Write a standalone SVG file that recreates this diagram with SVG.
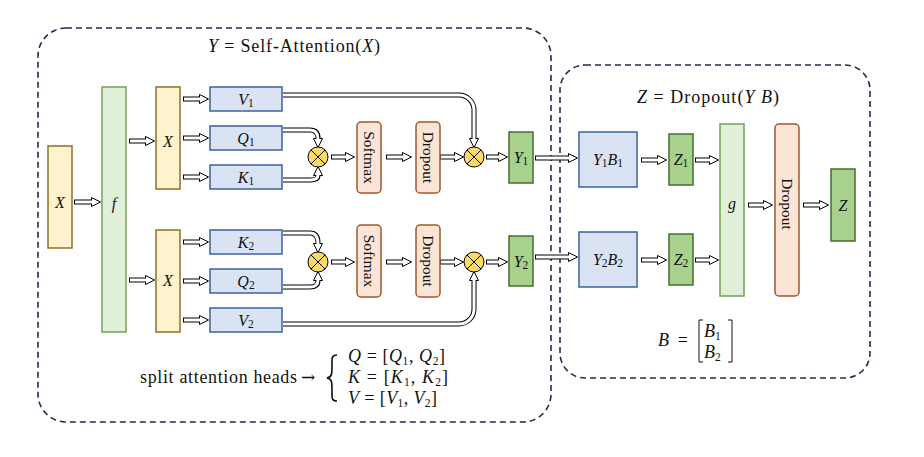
<svg xmlns="http://www.w3.org/2000/svg" width="924" height="457" viewBox="0 0 924 457">
<style>
.frame{fill:none;stroke:#1f2d4d;stroke-width:1.6;stroke-dasharray:6 4}
.yel{fill:#fff2cc;stroke:#8a7227;stroke-width:1.5}
.lg{fill:#e2f0d9;stroke:#76a055;stroke-width:1.5}
.dg{fill:#a9d18e;stroke:#456e2e;stroke-width:1.5}
.bl{fill:#dae3f3;stroke:#3b62a6;stroke-width:1.5}
.or{fill:#fbe5d6;stroke:#a0582c;stroke-width:1.5}
.ot{fill:#ffd966;stroke:#000;stroke-width:1}
.ao{fill:none;stroke:#000;stroke-width:5}
.ai{fill:none;stroke:#fff;stroke-width:3}
text{font-family:"Liberation Serif","Times New Roman",serif;fill:#111}
.lb{font-size:16px;text-anchor:middle;dominant-baseline:central}
.i{font-style:italic}
.s{font-size:11.5px}
.rt{font-size:15.5px;text-anchor:middle;dominant-baseline:central}
.big{font-size:18px}
.arr{font-family:"DejaVu Serif",serif;font-size:17px}
</style>
<defs>
<marker id="h" markerUnits="userSpaceOnUse" viewBox="0 -6 11 12" refX="0" refY="0" markerWidth="11" markerHeight="12" orient="auto" overflow="visible">
<path d="M0.5,-4.5 L9.5,0 L0.5,4.5 Z" fill="#fff" stroke="#000" stroke-width="1"/>
</marker>
<g id="otimes"><circle r="10" class="ot"/><path d="M-7,-7 L7,7 M-7,7 L7,-7" stroke="#000" stroke-width="1"/></g>
</defs>

<rect class="frame" x="38" y="28" width="513" height="394" rx="28"/>
<rect class="frame" x="560" y="65" width="310" height="313" rx="25"/>

<text class="big" x="208" y="52" textLength="172" lengthAdjust="spacing"><tspan class="i">Y</tspan> = Self-Attention(<tspan class="i">X</tspan>)</text>
<text class="big" x="637" y="103" textLength="142" lengthAdjust="spacing"><tspan class="i">Z</tspan> = Dropout(<tspan class="i">Y B</tspan>)</text>

<g id="connectors">
<path class="ao" d="M74,202 H91" marker-end="url(#h)"/><path class="ai" d="M75,202 H92"/>
<path class="ao" d="M129,141 H145" marker-end="url(#h)"/><path class="ai" d="M130,141 H146"/>
<path class="ao" d="M129,280 H145" marker-end="url(#h)"/><path class="ai" d="M130,280 H146"/>
<path class="ao" d="M183,99 H199" marker-end="url(#h)"/><path class="ai" d="M184,99 H200"/>
<path class="ao" d="M183,138 H199" marker-end="url(#h)"/><path class="ai" d="M184,138 H200"/>
<path class="ao" d="M183,177 H199" marker-end="url(#h)"/><path class="ai" d="M184,177 H200"/>
<path class="ao" d="M183,242 H199" marker-end="url(#h)"/><path class="ai" d="M184,242 H200"/>
<path class="ao" d="M183,281 H199" marker-end="url(#h)"/><path class="ai" d="M184,281 H200"/>
<path class="ao" d="M183,320 H199" marker-end="url(#h)"/><path class="ai" d="M184,320 H200"/>
<path class="ao" d="M283,95 H459 A15,15 0 0 1 474,110 V138" marker-end="url(#h)"/><path class="ai" d="M283,95 H459 A15,15 0 0 1 474,110 V139"/>
<path class="ao" d="M283,130 H310 Q318,130 318,138" marker-end="url(#h)"/><path class="ai" d="M283,130 H310 Q318,130 318,139"/>
<path class="ao" d="M283,180 H310 Q318,180 318,176" marker-end="url(#h)"/><path class="ai" d="M283,180 H310 Q318,180 318,175"/>
<path class="ao" d="M283,233 H310 Q318,233 318,243" marker-end="url(#h)"/><path class="ai" d="M283,233 H310 Q318,233 318,244"/>
<path class="ao" d="M283,287 H310 Q318,287 318,281" marker-end="url(#h)"/><path class="ai" d="M283,287 H310 Q318,287 318,280"/>
<path class="ao" d="M283,324 H459 A15,15 0 0 0 474,309 V281" marker-end="url(#h)"/><path class="ai" d="M283,324 H459 A15,15 0 0 0 474,309 V280"/>
<path class="ao" d="M331,157 H345" marker-end="url(#h)"/><path class="ai" d="M332,157 H346"/>
<path class="ao" d="M386,157 H402" marker-end="url(#h)"/><path class="ai" d="M387,157 H403"/>
<path class="ao" d="M440,157 H454" marker-end="url(#h)"/><path class="ai" d="M441,157 H455"/>
<path class="ao" d="M486,157 H498" marker-end="url(#h)"/><path class="ai" d="M487,157 H499"/>
<path class="ao" d="M331,262 H345" marker-end="url(#h)"/><path class="ai" d="M332,262 H346"/>
<path class="ao" d="M386,262 H402" marker-end="url(#h)"/><path class="ai" d="M387,262 H403"/>
<path class="ao" d="M440,262 H454" marker-end="url(#h)"/><path class="ai" d="M441,262 H455"/>
<path class="ao" d="M486,262 H498" marker-end="url(#h)"/><path class="ai" d="M487,262 H499"/>
<path class="ao" d="M535,158 H568" marker-end="url(#h)"/><path class="ai" d="M536,158 H569"/>
<path class="ao" d="M535,257 H568" marker-end="url(#h)"/><path class="ai" d="M536,257 H569"/>
<path class="ao" d="M641,160 H657" marker-end="url(#h)"/><path class="ai" d="M642,160 H658"/>
<path class="ao" d="M695,160 H709" marker-end="url(#h)"/><path class="ai" d="M696,160 H710"/>
<path class="ao" d="M641,260 H657" marker-end="url(#h)"/><path class="ai" d="M642,260 H658"/>
<path class="ao" d="M695,260 H709" marker-end="url(#h)"/><path class="ai" d="M696,260 H710"/>
<path class="ao" d="M748,205 H763" marker-end="url(#h)"/><path class="ai" d="M749,205 H764"/>
<path class="ao" d="M803,205 H819" marker-end="url(#h)"/><path class="ai" d="M804,205 H820"/>
</g>

<g id="x-in"><rect class="yel" x="48" y="146" width="24" height="102"/><text class="lb i" x="60" y="202">X</text></g>
<g id="f"><rect class="lg" x="102" y="87" width="24" height="245"/><text class="lb i" x="114" y="203">f</text></g>
<g id="x1"><rect class="yel" x="156" y="87" width="24" height="102"/><text class="lb i" x="168" y="141">X</text></g>
<g id="x2"><rect class="yel" x="156" y="230" width="24" height="102"/><text class="lb i" x="168" y="280">X</text></g>

<g id="v1"><rect class="bl" x="210" y="87" width="72" height="24"/><text class="lb" x="246" y="99"><tspan class="i">V</tspan><tspan class="s" dy="4">1</tspan></text></g>
<g id="q1"><rect class="bl" x="210" y="126" width="72" height="24"/><text class="lb" x="246" y="138"><tspan class="i">Q</tspan><tspan class="s" dy="4">1</tspan></text></g>
<g id="k1"><rect class="bl" x="210" y="165" width="72" height="24"/><text class="lb" x="246" y="177"><tspan class="i">K</tspan><tspan class="s" dy="4">1</tspan></text></g>
<g id="k2"><rect class="bl" x="210" y="230" width="72" height="24"/><text class="lb" x="246" y="242"><tspan class="i">K</tspan><tspan class="s" dy="4">2</tspan></text></g>
<g id="q2"><rect class="bl" x="210" y="269" width="72" height="24"/><text class="lb" x="246" y="281"><tspan class="i">Q</tspan><tspan class="s" dy="4">2</tspan></text></g>
<g id="v2"><rect class="bl" x="210" y="308" width="72" height="24"/><text class="lb" x="246" y="320"><tspan class="i">V</tspan><tspan class="s" dy="4">2</tspan></text></g>

<g id="mul1a"><use href="#otimes" x="318" y="157"/></g>
<g id="mul2a"><use href="#otimes" x="474" y="157"/></g>
<g id="mul1b"><use href="#otimes" x="318" y="262"/></g>
<g id="mul2b"><use href="#otimes" x="474" y="262"/></g>

<g id="softmax1"><rect class="or" x="357" y="122" width="24" height="71" rx="4"/><text class="rt" transform="translate(369,157.5) rotate(90)">Softmax</text></g>
<g id="dropout1"><rect class="or" x="416" y="122" width="24" height="71" rx="4"/><text class="rt" transform="translate(428,157.5) rotate(90)">Dropout</text></g>
<g id="softmax2"><rect class="or" x="357" y="225" width="24" height="72" rx="4"/><text class="rt" transform="translate(369,261) rotate(90)">Softmax</text></g>
<g id="dropout2"><rect class="or" x="416" y="225" width="24" height="72" rx="4"/><text class="rt" transform="translate(428,261) rotate(90)">Dropout</text></g>

<g id="y1"><rect class="dg" x="509" y="132" width="24" height="51"/><text class="lb" x="521" y="157"><tspan class="i">Y</tspan><tspan class="s" dy="4">1</tspan></text></g>
<g id="y2"><rect class="dg" x="509" y="236" width="24" height="50"/><text class="lb" x="521" y="261"><tspan class="i">Y</tspan><tspan class="s" dy="4">2</tspan></text></g>

<g id="y1b1"><rect class="bl" x="579" y="132" width="58" height="55"/><text class="lb" x="608" y="159"><tspan class="i">Y</tspan><tspan class="s" dy="4">1</tspan><tspan class="i" dy="-4">B</tspan><tspan class="s" dy="4">1</tspan></text></g>
<g id="y2b2"><rect class="bl" x="579" y="232" width="58" height="55"/><text class="lb" x="608" y="259"><tspan class="i">Y</tspan><tspan class="s" dy="4">2</tspan><tspan class="i" dy="-4">B</tspan><tspan class="s" dy="4">2</tspan></text></g>
<g id="z1"><rect class="dg" x="669" y="134" width="24" height="51"/><text class="lb" x="681" y="159"><tspan class="i">Z</tspan><tspan class="s" dy="4">1</tspan></text></g>
<g id="z2"><rect class="dg" x="669" y="234" width="24" height="51"/><text class="lb" x="681" y="259"><tspan class="i">Z</tspan><tspan class="s" dy="4">2</tspan></text></g>
<g id="g"><rect class="lg" x="720" y="124" width="24" height="172"/><text class="lb i" x="732" y="203">g</text></g>
<g id="dropout3"><rect class="or" x="775" y="124" width="24" height="172" rx="4"/><text class="rt" transform="translate(787,204) rotate(90)">Dropout</text></g>
<g id="z"><rect class="dg" x="831" y="169" width="24" height="72"/><text class="lb i" x="843" y="205">Z</text></g>

<g id="bdef">
<text class="big" x="658" y="346" textLength="30" lengthAdjust="spacing"><tspan class="i">B</tspan> =</text>
<path d="M703,320 H699 V362 H703 M728,320 H732 V362 H728" fill="none" stroke="#111" stroke-width="1"/>
<text class="big" x="704" y="337"><tspan class="i">B</tspan><tspan class="s" dy="3">1</tspan></text>
<text class="big" x="704" y="358"><tspan class="i">B</tspan><tspan class="s" dy="3">2</tspan></text>
</g>

<g id="split">
<text class="big" x="140" y="383" textLength="157" lengthAdjust="spacing">split attention heads</text>
<text class="arr" x="301" y="383">→</text>
<path d="M337,355 C331,355 332,359 332,366 C332,374 332,377 327,378 C332,379 332,382 332,390 C332,397 331,401 337,401" fill="none" stroke="#111" stroke-width="1.6"/>
<text class="big" x="348" y="362" textLength="97" lengthAdjust="spacing"><tspan class="i">Q</tspan> = [<tspan class="i">Q</tspan><tspan class="s" dy="3">1</tspan><tspan dy="-3">, </tspan><tspan class="i">Q</tspan><tspan class="s" dy="3">2</tspan><tspan dy="-3">]</tspan></text>
<text class="big" x="348" y="383" textLength="100" lengthAdjust="spacing"><tspan class="i">K</tspan> = [<tspan class="i">K</tspan><tspan class="s" dy="3">1</tspan><tspan dy="-3">, </tspan><tspan class="i">K</tspan><tspan class="s" dy="3">2</tspan><tspan dy="-3">]</tspan></text>
<text class="big" x="348" y="404" textLength="89" lengthAdjust="spacing"><tspan class="i">V</tspan> = [<tspan class="i">V</tspan><tspan class="s" dy="3">1</tspan><tspan dy="-3">, </tspan><tspan class="i">V</tspan><tspan class="s" dy="3">2</tspan><tspan dy="-3">]</tspan></text>
</g>
</svg>
